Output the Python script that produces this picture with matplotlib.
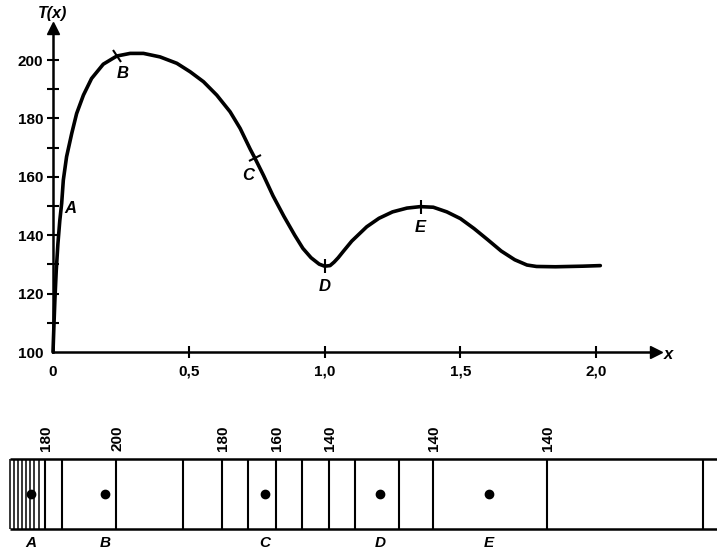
import matplotlib
matplotlib.use("Agg")
import matplotlib.pyplot as plt
from matplotlib.markers import MarkerStyle
from matplotlib.transforms import Affine2D

plt.rcParams["font.family"] = ["Liberation Sans", "DejaVu Sans"]
plt.rcParams["font.weight"] = "bold"

# temperature profile T(x)
x_vals = [0.0, 0.003, 0.007, 0.012, 0.018, 0.025, 0.032, 0.038, 0.05, 0.069,
          0.087, 0.112, 0.142, 0.185, 0.235, 0.284, 0.333, 0.394, 0.456, 0.505,
          0.554, 0.603, 0.652, 0.689, 0.726, 0.744, 0.775, 0.81, 0.85, 0.89,
          0.92, 0.95, 0.98, 1.0, 1.02, 1.035, 1.05, 1.069, 1.1, 1.155, 1.2, 1.25,
          1.303, 1.352, 1.4, 1.45, 1.5, 1.55, 1.6, 1.65, 1.7, 1.745, 1.78,
          1.85, 1.95, 2.015]
t_vals = [100, 108, 118, 128, 137, 145, 151, 158.9, 166.9, 174.9,
          181.7, 188, 193.7, 198.6, 201.4, 202.3, 202.3, 201.1, 198.9, 196,
          192.6, 188, 182.3, 176.6, 169.5, 166.3, 160.5, 153.5, 146.5, 140,
          135.5, 132.3, 130.1, 129.4, 129.6, 130.8, 132.3, 134.5, 138, 142.9, 145.8, 148,
          149.3, 149.8, 149.6, 148, 145.7, 142.3, 138.5, 134.6, 131.6, 129.8, 129.3,
          129.2, 129.4, 129.6]

# marked points on the curve: x, T, tick angle
pt_x = [0.235, 0.744, 1.0, 1.355]
pt_t = [201.4, 166.3, 129.4, 149.8]
pt_angle = [31.5, -61, 0, 0]
lbl_names = ["A", "B", "C", "D", "E"]
lbl_x = [0.063, 0.258, 0.718, 1.002, 1.352]
lbl_t = [149.3, 195.5, 160.6, 122.3, 142.8]

# isotherm strip
iso_pos = [10, 14, 18, 22, 26, 30, 34, 39, 45, 62, 116, 183, 222, 248, 276,
           302, 329, 355, 399, 433, 547, 703]
iso_temp = [100, 110, 120, 130, 140, 150, 160, 170, 180, 190, 200, 190, 180,
            170, 160, 150, 140, 130, 130, 140, 140, 130]
iso_shown = [45, 116, 222, 276, 329, 433, 547]
dot_pos = [31, 105, 265, 380, 489]

fig = plt.figure(figsize=(7.17, 5.51), dpi=100)

ax = fig.add_axes([53 / 717, 1 - 352 / 551, (656 - 53) / 717, (352 - 28) / 551])
ax.set_xlim(0, 2.22)
ax.set_ylim(100, 211)
for s in ["top", "right"]:
    ax.spines[s].set_visible(False)
for s in ["left", "bottom"]:
    ax.spines[s].set_linewidth(1.8)
ax.plot(1, 0, ">k", ms=9, transform=ax.transAxes, clip_on=False)
ax.plot(0, 1, "^k", ms=9, transform=ax.transAxes, clip_on=False)

ax.set_xticks([0, 0.5, 1.0, 1.5, 2.0])
ax.set_xticklabels(["0", "0,5", "1,0", "1,5", "2,0"])
ax.set_yticks(range(100, 201, 20))
ax.set_yticks(range(110, 200, 20), minor=True)
ax.tick_params(axis="both", which="both", direction="inout", length=8, width=1.5,
               labelsize=11, pad=3)
ax.tick_params(axis="x", pad=5)
ax.xaxis.get_major_ticks()[0].tick1line.set_visible(False)
ax.yaxis.get_major_ticks()[0].tick1line.set_visible(False)

ax.plot(x_vals, t_vals, color="black", lw=2.6, solid_capstyle="round",
        solid_joinstyle="round", clip_on=False)

for px, pt, ang in zip(pt_x, pt_t, pt_angle):
    m = MarkerStyle("|", transform=Affine2D().rotate_deg(ang))
    ax.plot(px, pt, marker=m, color="black", ms=10, mew=1.5)

for name, lx, lt in zip(lbl_names, lbl_x, lbl_t):
    ax.text(lx, lt, name, ha="center", va="center", fontsize=12,
            style="italic", weight="bold")

ax.text(0, 216, "T(x)", ha="center", va="center", fontsize=11.5,
        style="italic", weight="bold", clip_on=False)
ax.text(2.25, 99, "x", ha="left", va="center", fontsize=12,
        style="italic", weight="bold", clip_on=False)

# strip of isotherms
sx = fig.add_axes([0, 1 - 529 / 551, 1, (529 - 459) / 551])
sx.set_xlim(0, 717)
sx.set_ylim(0, 1)
sx.axis("off")
sx.hlines([0, 1], iso_pos[0], 717, color="black", lw=1.8, clip_on=False)
for p, t in zip(iso_pos, iso_temp):
    thin = p < 45
    sx.vlines(p, 0, 1, color="black", lw=1.1 if thin else 1.5)
    if p in iso_shown:
        sx.annotate(str(t), (p + 1, 1), xytext=(0, 6), textcoords="offset points",
                    rotation=90, ha="center", va="bottom", fontsize=11,
                    weight="bold")
sx.plot(dot_pos, [0.5] * len(dot_pos), "o", color="black", ms=6)
for name, p in zip(lbl_names, dot_pos):
    sx.annotate(name, (p, 0), xytext=(0, -10), textcoords="offset points",
                ha="center", va="center", fontsize=11, style="italic",
                weight="bold")

fig.savefig("out.png", dpi=100)
